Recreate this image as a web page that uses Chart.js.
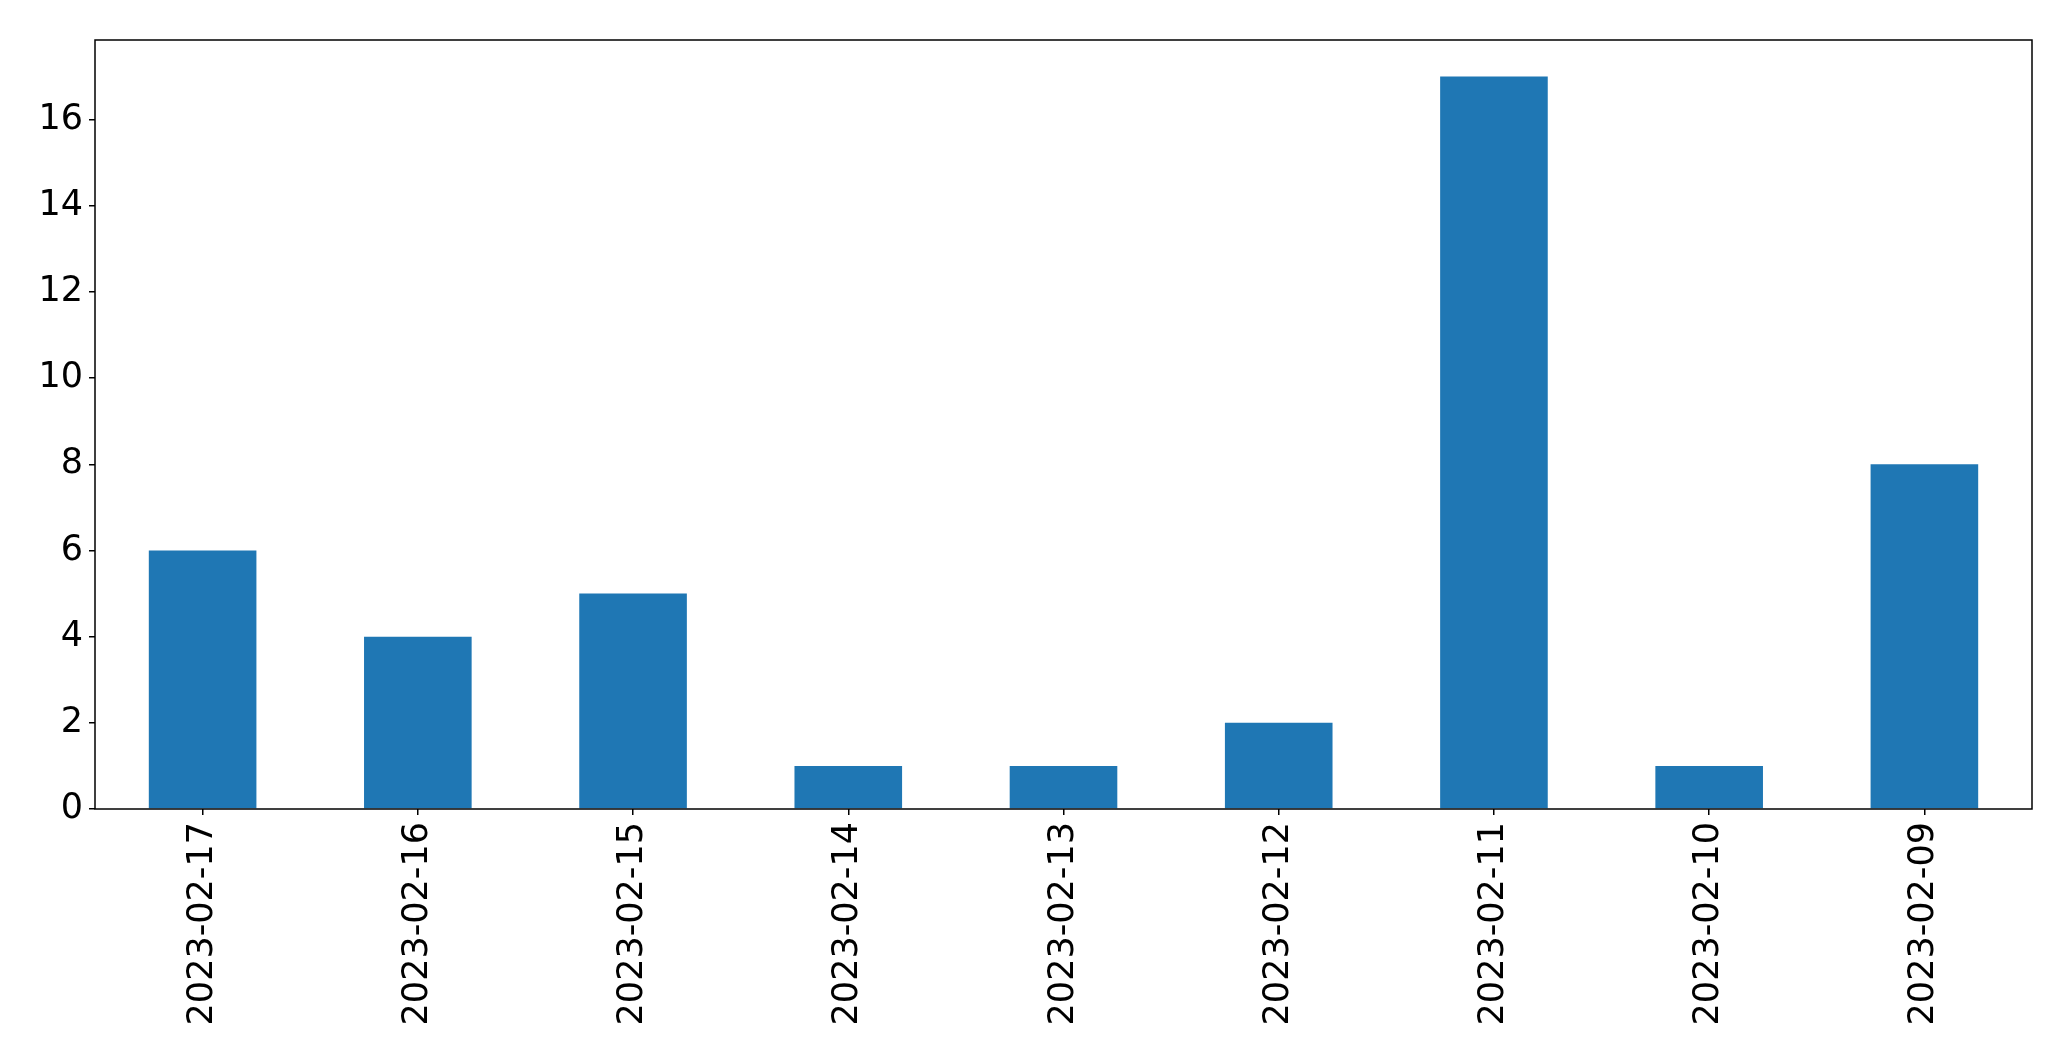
<!DOCTYPE html>
<html>
<head>
<meta charset="utf-8">
<script src="https://cdn.jsdelivr.net/npm/chart.js@4.4.0/dist/chart.umd.min.js"></script>
<style>
  html, body { margin: 0; padding: 0; background: #fff; }
  #wrap { width: 2071px; height: 1061px; }
</style>
</head>
<body>
<div id="wrap"><canvas id="barChart" width="2071" height="1061"></canvas></div>
<script>
const dates = ['2023-02-17', '2023-02-16', '2023-02-15', '2023-02-14', '2023-02-13',
               '2023-02-12', '2023-02-11', '2023-02-10', '2023-02-09'];
const counts = [6, 4, 5, 1, 1, 2, 17, 1, 8];
const yTicks = [0, 2, 4, 6, 8, 10, 12, 14, 16];

// box around the plot area, like matplotlib spines
const frame = {
    id: 'frame',
    afterDraw(chart) {
        const { ctx, chartArea: a } = chart;
        ctx.save();
        ctx.strokeStyle = '#000';
        ctx.lineWidth = 1.5;
        ctx.strokeRect(a.left, a.top, a.right - a.left, a.bottom - a.top);
        ctx.restore();
    }
};

const ctx = document.getElementById('barChart').getContext('2d');
new Chart(ctx, {
    type: 'bar',
    data: {
        labels: dates,
        datasets: [{
            data: counts,
            backgroundColor: '#1f77b4',
            barPercentage: 0.5,
            categoryPercentage: 1.0
        }]
    },
    options: {
        responsive: false,
        animation: false,
        layout: { padding: { top: 40, right: 39, left: 0, bottom: 0 } },
        plugins: { legend: { display: false }, tooltip: { enabled: false } },
        scales: {
            x: {
                grid: { offset: false, drawOnChartArea: false, tickLength: 6, color: '#000', lineWidth: 1.5 },
                border: { display: false },
                ticks: {
                    color: '#000',
                    font: { family: 'DejaVu Sans', size: 35 },
                    maxRotation: 90, minRotation: 90,
                    padding: 7
                },
                afterFit(scale) { scale.height = 252; }
            },
            y: {
                min: 0,
                max: 17.85,
                grid: { drawOnChartArea: false, tickLength: 6, color: '#000', lineWidth: 1.5 },
                border: { display: false },
                ticks: {
                    color: '#000',
                    font: { family: 'DejaVu Sans', size: 35 },
                    stepSize: 2,
                    includeBounds: false,
                    padding: 6
                },
                afterBuildTicks(scale) { scale.ticks = yTicks.map(v => ({ value: v })); },
                afterFit(scale) { scale.width = 95; }
            }
        }
    },
    plugins: [frame]
});
</script>
</body>
</html>
